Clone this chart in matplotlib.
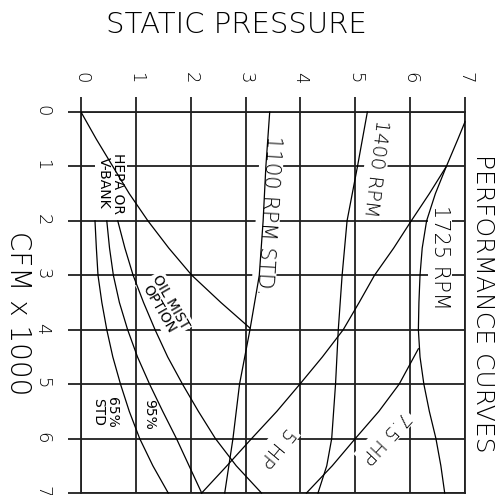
import matplotlib
matplotlib.use("Agg")
import matplotlib.pyplot as plt

plt.rcParams["font.family"] = ["DejaVu Sans"]
plt.rcParams["font.weight"] = "light"

# static pressure (x, across the top) and CFM x 1000 (y, down the side)
sp_ticks = [0, 1, 2, 3, 4, 5, 6, 7]
cfm_ticks = [0, 1, 2, 3, 4, 5, 6, 7]

# system / filter curves: (static pressure, cfm)
hepa_cfm = [0, 0.5, 1, 1.5, 2, 2.5, 3, 3.5, 3.97]
hepa_sp = [0, 0.28, 0.58, 0.88, 1.22, 1.6, 2.02, 2.55, 3.08]

filt_cfm = [2, 2.5, 3, 3.5, 4, 4.5, 5, 5.5, 6, 6.5, 7]
std65_sp = [0.255, 0.28, 0.31, 0.38, 0.47, 0.58, 0.72, 0.88, 1.07, 1.31, 1.59]
pct95_sp = [0.47, 0.52, 0.59, 0.70, 0.85, 1.03, 1.25, 1.49, 1.74, 1.97, 2.2]
oil_sp = [0.67, 0.8, 0.95, 1.14, 1.35, 1.58, 1.85, 2.14, 2.45, 2.83, 3.29]

# fan curves
rpm1100_cfm = [0, 1, 2, 3, 4, 5, 6, 7]
rpm1100_sp = [3.44, 3.37, 3.32, 3.25, 3.08, 2.89, 2.77, 2.62]

rpm1400_cfm = [0, 1, 2, 3, 4, 5, 6, 6.5, 7]
rpm1400_sp = [5.22, 5.04, 4.85, 4.76, 4.69, 4.64, 4.57, 4.48, 4.32]

rpm1725_cfm = [0.18, 0.5, 1, 1.5, 2, 2.5, 3, 3.5, 4, 4.5, 5, 5.5, 6, 6.5, 7]
rpm1725_sp = [7.0, 6.87, 6.66, 6.46, 6.3, 6.22, 6.18, 6.16, 6.15, 6.18, 6.25, 6.35, 6.47, 6.56, 6.63]

# horsepower limits
hp5_cfm = [7, 6.5, 6, 5.5, 5, 4.5, 4, 3.5, 3, 2.5, 2, 1.5, 1]
hp5_sp = [2.2, 2.66, 3.11, 3.57, 3.99, 4.4, 4.78, 5.07, 5.35, 5.7, 6.02, 6.35, 6.66]

hp75_cfm = [7, 6.5, 6, 5.5, 5, 4.35]
hp75_sp = [4.11, 4.58, 5.0, 5.43, 5.8, 6.15]

labels = [
    ("HEPA OR\nV-BANK", 0.54, 1.31, -90, 10),
    ("1100 RPM STD.", 3.41, 1.89, -93.5, 15),
    ("1400 RPM", 5.37, 1.03, -97, 14),
    ("1725 RPM", 6.55, 2.67, -90, 15),
    ("OIL MIST\nOPTION", 1.53, 3.55, -60, 10),
    ("65%\nSTD", 0.44, 5.52, -90, 10),
    ("95%", 1.24, 5.55, -90, 10),
    ("5 HP", 3.56, 6.15, -130, 14),
    ("7.5 HP", 5.54, 5.97, -133, 14),
]

W, H = 501, 495
fig = plt.figure(figsize=(W / 100, H / 100), dpi=100)
ax = fig.add_axes([81 / W, 2 / H, 384 / W, 381 / H])

grid_c = "#202020"
grid_lw = 1.3
curve_lw = 0.9

ax.set_xlim(0, 7)
ax.set_ylim(7, 0)
ax.set_xticks(sp_ticks)
ax.set_yticks(cfm_ticks)
ax.xaxis.tick_top()
ax.set_axisbelow(True)
ax.grid(True, color=grid_c, lw=grid_lw)
for s in ax.spines.values():
    s.set_color(grid_c)
    s.set_linewidth(grid_lw)
    s.set_zorder(0.6)

ax.tick_params(axis="x", top=True, bottom=False, direction="out", length=10.8,
               width=grid_lw, color=grid_c, pad=10, labelsize=13, labelrotation=-90)
ax.tick_params(axis="y", left=True, direction="out", length=9.4,
               width=grid_lw, color=grid_c, pad=12, labelsize=13, labelrotation=-90)

curves = [
    (hepa_sp, hepa_cfm),
    (std65_sp, filt_cfm),
    (pct95_sp, filt_cfm),
    (oil_sp, filt_cfm),
    (rpm1100_sp, rpm1100_cfm),
    (rpm1400_sp, rpm1400_cfm),
    (rpm1725_sp, rpm1725_cfm),
    (hp5_sp, hp5_cfm),
    (hp75_sp, hp75_cfm),
]
for xs, ys in curves:
    ax.plot(xs, ys, color="black", lw=curve_lw, zorder=4, clip_on=False)

for txt, x, y, rot, size in labels:
    ax.text(x, y, txt, rotation=rot, fontsize=size, ha="center", va="center",
            rotation_mode="anchor", zorder=3, linespacing=1.0,
            fontweight="normal" if size < 12 else "light",
            bbox=dict(facecolor="white", edgecolor="none", pad=1.5))

fig.text(236 / W, 1 - 25 / H, "STATIC PRESSURE", ha="center", va="center", fontsize=21)
fig.text(18 / W, 1 - 313 / H, "CFM x 1000", ha="center", va="center",
         rotation=-90, fontsize=20)
fig.text(482.5 / W, 1 - 303 / H, "PERFORMANCE CURVES", ha="center", va="center",
         rotation=-90, fontsize=18)

fig.savefig("out.png", dpi=100)
